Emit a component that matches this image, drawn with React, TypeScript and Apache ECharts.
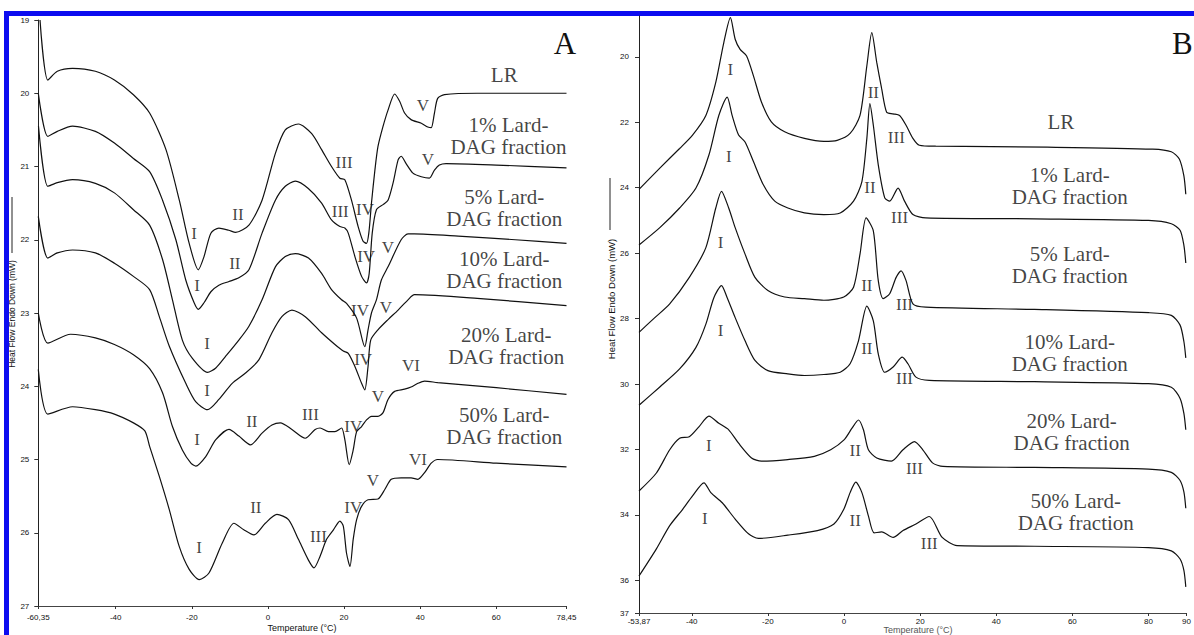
import React, { useEffect, useRef } from "react";
import * as echarts from "echarts";

// ---------- Panel A (temperature °C, heat flow mW) ----------
const aLR = [[-59.9,19.0],[-57.85,19.82],[-55.35,19.7],[-51.35,19.66],[-45.35,19.7],[-40.35,19.82],[-35.35,20.02],[-31.1,20.27],[-26.8,20.77],[-23.3,21.46],[-20.7,22.05],[-18.3,22.41],[-16.8,22.23],[-15.0,21.91],[-12.9,21.84],[-10.3,21.87],[-8.5,21.9],[-5.0,21.8],[-1.55,21.46],[1.95,20.82],[4.55,20.5],[8.0,20.42],[11.5,20.55],[14.1,20.77],[16.7,21.0],[18.9,21.16],[20.2,21.18],[21.95,21.46],[23.7,21.82],[25.0,22.02],[25.9,22.05],[26.5,21.91],[27.2,21.5],[28.1,21.05],[28.9,20.73],[30.2,20.46],[31.55,20.23],[33.3,20.01],[34.6,20.11],[35.9,20.27],[37.6,20.36],[40.3,20.41],[42.0,20.46],[42.9,20.47],[43.75,20.27],[44.6,20.07],[46.4,20.02],[55,20.0],[65,20.0],[78.45,20.0]];
const a1 = [[-60.35,20.0],[-57.85,20.59],[-55.35,20.52],[-51.35,20.45],[-45.35,20.52],[-40.35,20.68],[-35.35,20.89],[-31.1,21.07],[-27.7,21.46],[-24.2,22.0],[-21.6,22.55],[-19.4,22.86],[-18.3,22.95],[-16.8,22.86],[-15.0,22.71],[-12.9,22.62],[-10.25,22.57],[-7.65,22.52],[-5.0,22.41],[-1.55,21.91],[1.95,21.46],[4.55,21.27],[7.2,21.2],[10.6,21.3],[14.1,21.5],[16.7,21.73],[18.9,21.82],[20.2,21.84],[21.1,21.91],[22.85,22.23],[24.6,22.5],[25.9,22.59],[26.6,22.46],[27.4,21.91],[28.5,21.59],[30.25,21.52],[31.55,21.46],[32.85,21.23],[34.2,20.91],[35.0,20.86],[36.3,20.96],[38.1,21.09],[40.3,21.14],[42.4,21.16],[43.75,21.05],[45.05,20.98],[46.8,20.96],[60,20.98],[78.45,21.02]];
const a5 = [[-60.3,20.45],[-57.85,21.27],[-55.35,21.22],[-51.35,21.18],[-45.35,21.23],[-40.35,21.36],[-35.35,21.59],[-31.1,21.8],[-27.7,22.27],[-25.1,22.82],[-22.5,23.37],[-19.85,23.62],[-15.9,23.81],[-13.7,23.75],[-11.1,23.59],[-7.65,23.37],[-5.0,23.18],[-1.55,22.82],[1.95,22.37],[4.55,22.23],[7.2,22.19],[10.65,22.25],[14.1,22.46],[16.7,22.68],[19.35,22.82],[20.65,22.87],[23.3,23.07],[25.45,23.46],[26.3,23.23],[27.2,23.0],[28.5,22.82],[29.8,22.55],[31.55,22.37],[35.0,22.0],[36.8,21.92],[38.4,21.92],[50,21.95],[65,22.0],[78.45,22.05]];
const a10 = [[-60.35,21.68],[-57.85,22.25],[-55.35,22.18],[-51.35,22.14],[-45.35,22.18],[-40.35,22.32],[-35.35,22.5],[-31.1,22.68],[-28.55,23.05],[-25.95,23.45],[-21.6,23.96],[-19.0,24.21],[-15.9,24.32],[-12.9,24.18],[-9.4,23.96],[-5.9,23.82],[-2.4,23.64],[1.05,23.27],[3.65,23.05],[6.3,22.96],[9.8,23.05],[14.1,23.27],[17.6,23.43],[19.8,23.52],[21.1,23.55],[22.85,23.73],[24.6,23.96],[25.45,24.05],[26.3,23.73],[27.0,23.37],[28.9,23.23],[31.55,23.09],[34.2,22.96],[36.8,22.82],[38.5,22.75],[55,22.8],[78.45,22.9]];
const a20 = [[-60.35,23.0],[-57.85,23.41],[-51.85,23.29],[-45.35,23.34],[-40.35,23.43],[-35.35,23.57],[-31.1,23.76],[-27.7,24.09],[-25.1,24.55],[-22.5,24.87],[-20.25,25.05],[-18.95,25.09],[-16.35,24.96],[-13.7,24.73],[-10.25,24.59],[-7.65,24.68],[-4.6,24.8],[-1.55,24.64],[1.05,24.53],[3.25,24.5],[6.3,24.59],[9.8,24.71],[12.4,24.59],[13.7,24.57],[15.9,24.62],[17.6,24.62],[19.35,24.57],[20.2,24.73],[21.35,25.07],[22.4,24.87],[23.3,24.62],[24.6,24.55],[25.9,24.46],[27.2,24.41],[28.9,24.41],[30.25,24.36],[31.55,24.18],[33.3,24.07],[35.9,24.04],[37.6,24.01],[39.4,23.96],[41.15,23.93],[44.6,23.95],[60,24.02],[78.45,24.11]];
const a50 = [[-60.35,23.77],[-57.85,24.38],[-51.35,24.28],[-45.35,24.32],[-40.35,24.38],[-35.35,24.5],[-32.35,24.61],[-31.1,24.82],[-28.55,25.23],[-25.95,25.68],[-23.3,26.19],[-20.7,26.5],[-18.05,26.64],[-15.5,26.55],[-12.0,26.14],[-8.95,25.87],[-6.35,25.96],[-3.7,26.03],[-0.7,25.87],[2.35,25.75],[5.4,25.82],[8.0,26.09],[10.6,26.37],[12.1,26.48],[13.7,26.32],[15.4,26.09],[17.2,25.96],[18.9,25.84],[19.8,25.91],[20.65,26.28],[21.55,26.46],[22.4,26.09],[23.3,25.82],[24.6,25.64],[26.3,25.55],[28.9,25.54],[30.7,25.41],[32.4,25.27],[35.0,25.25],[37.6,25.25],[39.4,25.27],[41.15,25.18],[42.9,25.05],[44.6,25.0],[60,25.05],[78.45,25.1]];

// ---------- Panel B ----------
const bLR = [[-53.87,24.05],[-48.4,23.4],[-43.2,22.8],[-39.8,22.39],[-36.3,21.79],[-33.7,20.78],[-31.6,19.57],[-29.85,18.8],[-28.6,19.46],[-27.3,19.77],[-25.6,19.97],[-23.8,20.58],[-21.7,21.38],[-19.1,21.99],[-15.6,22.29],[-10.4,22.49],[-5.3,22.58],[-1.8,22.55],[1.6,22.34],[4.2,21.79],[6.0,20.27],[7.3,19.26],[8.6,20.17],[9.9,20.98],[11.2,21.69],[12.9,21.74],[14.6,21.79],[16.3,22.09],[18.1,22.49],[19.8,22.7],[24.1,22.73],[53.4,22.76],[81.1,22.82],[86.0,22.9],[88.1,23.12],[89.3,23.64],[89.8,24.2]];
const b1 = [[-53.87,25.75],[-48.4,25.22],[-43.2,24.62],[-38.9,24.01],[-35.5,23.0],[-32.9,21.79],[-30.7,21.23],[-29.4,21.79],[-27.7,22.39],[-26.0,22.6],[-23.8,23.2],[-21.2,23.91],[-18.2,24.41],[-14.75,24.62],[-10.4,24.77],[-5.3,24.82],[-1.0,24.77],[2.5,24.41],[4.7,23.81],[6.0,22.49],[6.8,21.43],[7.7,22.09],[9.0,23.3],[10.7,24.31],[12.0,24.41],[14.2,24.01],[15.9,24.41],[18.1,24.82],[21.5,24.92],[50,24.95],[80,25.0],[86,25.1],[88.3,25.3],[89.3,25.76],[89.8,26.3]];
const b5 = [[-53.87,28.42],[-50,28.0],[-45.8,27.55],[-40.65,26.74],[-36.3,25.83],[-33.7,24.62],[-32.2,24.11],[-30.3,24.62],[-28.6,25.22],[-26.0,26.03],[-23.4,26.74],[-20.0,27.14],[-15.6,27.34],[-10.4,27.39],[-5.3,27.44],[-0.06,27.34],[2.5,27.04],[4.2,26.03],[5.8,24.92],[7.7,25.32],[9.0,26.84],[10.3,27.39],[12.0,27.24],[13.7,26.74],[15.0,26.54],[16.3,26.84],[18.1,27.55],[21.5,27.65],[50,27.72],[80,27.82],[86,27.9],[88.3,28.2],[89.3,28.7],[89.8,29.2]];
const b10 = [[-53.87,30.65],[-48.4,30.09],[-43.2,29.54],[-38.9,28.88],[-36.3,28.17],[-34.2,27.36],[-32.2,26.99],[-30.7,27.36],[-28.6,27.97],[-26.0,28.68],[-23.4,29.28],[-20.0,29.59],[-14.75,29.69],[-10.4,29.74],[-5.3,29.71],[-1.0,29.64],[1.6,29.38],[3.8,28.68],[6.0,27.62],[7.7,28.07],[9.0,29.08],[10.7,29.64],[12.9,29.48],[15.3,29.18],[16.8,29.38],[18.9,29.79],[22.4,29.89],[50,29.93],[80,29.99],[86,30.1],[88.3,30.44],[89.3,30.9],[89.8,31.4]];
const b20 = [[-53.87,33.27],[-49.3,32.72],[-45.8,32.01],[-43.2,31.66],[-40.65,31.61],[-38.07,31.3],[-35.5,30.98],[-32.9,31.2],[-30.3,31.4],[-27.7,31.81],[-24.3,32.26],[-21.7,32.36],[-14.75,32.31],[-7.8,32.21],[-3.5,32.01],[0.0,31.71],[2.1,31.35],[3.8,31.1],[5.1,31.4],[6.4,32.01],[8.6,32.26],[12.45,32.36],[15.5,32.01],[18.5,31.76],[20.7,32.01],[23.25,32.41],[26,32.52],[50,32.55],[80,32.6],[86,32.7],[88.3,32.95],[89.3,33.3],[89.8,33.8]];
const b50 = [[-53.87,35.87],[-49.3,35.04],[-45.8,34.33],[-42.4,33.83],[-39.8,33.42],[-36.8,33.02],[-35.0,33.32],[-32.0,33.63],[-28.6,34.13],[-25.1,34.58],[-22.5,34.72],[-14.75,34.62],[-7.0,34.48],[-2.65,34.28],[-0.06,33.83],[1.6,33.32],[3.1,33.0],[4.7,33.32],[6.4,34.03],[7.9,34.55],[9.9,34.52],[12.9,34.69],[15.5,34.48],[18.9,34.28],[22.4,34.05],[25.8,34.69],[29.7,34.94],[50,34.96],[80,35.0],[86,35.1],[88.3,35.35],[89.3,35.7],[89.8,36.2]];

// ---------- Tick labels ----------
const aXTicks = [-60.35, -40, -20, 0, 20, 40, 60, 78.45];
const aYTicks = [19, 20, 21, 22, 23, 24, 25, 26, 27];
const bXTicks = [-53.87, -40, -20, 0, 20, 40, 60, 80, 90];
const bYTicks = [20, 22, 24, 26, 28, 30, 32, 34, 36, 37];

// ---------- Peak annotations (temperature, heat flow, text) ----------
const aPeakLabels = [
  [-19.4,21.91,"I"],[-7.9,21.66,"II"],[20.0,20.95,"III"],[25.5,21.59,"IV"],[40.7,20.17,"V"],
  [-18.6,22.63,"I"],[-8.7,22.32,"II"],[19.0,21.62,"III"],[25.8,22.23,"IV"],[42.0,20.91,"V"],
  [-16.0,23.42,"I"],[24.2,22.96,"IV"],[31.5,22.11,"V"],
  [-16.0,24.06,"I"],[25.0,23.64,"IV"],[31.0,22.92,"V"],
  [-18.6,24.73,"I"],[-4.25,24.48,"II"],[11.15,24.39,"III"],[22.4,24.55,"IV"],[28.9,24.14,"V"],[37.6,23.71,"VI"],
  [-18.1,26.2,"I"],[-3.2,25.66,"II"],[13.25,26.05,"III"],[22.4,25.66,"IV"],[27.6,25.28,"V"],[39.4,25.0,"VI"],
];
const bPeakLabels = [
  [-29.85,20.38,"I"],[7.7,21.09,"II"],[13.75,22.47,"III"],
  [-30.3,23.03,"I"],[6.8,24.0,"II"],[14.6,24.91,"III"],
  [-32.45,25.68,"I"],[6.0,27.0,"II"],[15.9,27.56,"III"],
  [-32.45,28.35,"I"],[6.0,28.91,"II"],[15.9,29.83,"III"],
  [-35.5,31.87,"I"],[2.95,32.02,"II"],[18.5,32.58,"III"],
  [-36.6,34.11,"I"],[2.95,34.16,"II"],[22.4,34.87,"III"],
];
const aSampleLabels = [
  [62.1,19.75,"LR"],[63.2,20.58,"1% Lard-\nDAG fraction"],[62.1,21.56,"5% Lard-\nDAG fraction"],
  [62.1,22.41,"10% Lard-\nDAG fraction"],[62.6,23.45,"20% Lard-\nDAG fraction"],[62.1,24.54,"50% Lard-\nDAG fraction"],
];
const bSampleLabels = [
  [57.0,21.99,"LR"],[59.3,23.94,"1% Lard-\nDAG fraction"],[59.3,26.36,"5% Lard-\nDAG fraction"],
  [59.3,29.04,"10% Lard-\nDAG fraction"],[59.8,31.48,"20% Lard-\nDAG fraction"],[60.9,33.9,"50% Lard-\nDAG fraction"],
];

const SERIF = "'Liberation Serif', 'Times New Roman', serif";
const SANS = "'Liberation Sans', Arial, sans-serif";
const BLUE = "#0c0cf0";

const fmt = (v: number) => String(v).replace(".", ",");

function xAxisCfg(gridIndex: number, min: number, max: number, ticks: number[], margin: number) {
  return {
    type: "value", gridIndex, min, max,
    axisLine: { show: true, onZero: false, lineStyle: { color: "#444", width: 1 } },
    axisTick: { show: true, customValues: ticks, length: 3, lineStyle: { color: "#333" } },
    axisLabel: { customValues: ticks, formatter: fmt, fontFamily: SANS, fontSize: 8, color: "#111", margin },
    splitLine: { show: false },
  };
}
function yAxisCfg(gridIndex: number, min: number, max: number, ticks: number[], margin: number) {
  return {
    type: "value", gridIndex, min, max, inverse: true,
    axisLine: { show: true, onZero: false, lineStyle: { color: "#222", width: 1 } },
    axisTick: { show: true, customValues: ticks, length: 4, lineStyle: { color: "#333" } },
    axisLabel: { customValues: ticks, fontFamily: SANS, fontSize: 8, color: "#111", margin },
    splitLine: { show: false },
  };
}

function curve(data: number[][], idx: number) {
  return {
    type: "line", xAxisIndex: idx, yAxisIndex: idx, data, symbol: "none", showSymbol: false,
    smooth: 0.25, silent: true, lineStyle: { color: "#111", width: 1.2 },
  };
}
function labels(data: any[], idx: number, size: number) {
  return {
    type: "scatter", xAxisIndex: idx, yAxisIndex: idx, silent: true, clip: false,
    symbolSize: 1, itemStyle: { color: "rgba(0,0,0,0)" },
    data: data.map((d) => ({ value: [d[0], d[1]], name: d[2] })),
    label: {
      show: true, position: "inside", formatter: (p: any) => p.name,
      fontFamily: SERIF, fontSize: size, lineHeight: size + 1, color: "#111", align: "center",
    },
  };
}

export default function App() {
  const ref = useRef<HTMLDivElement>(null);
  useEffect(() => {
    if (!ref.current) return;
    const chart = echarts.init(ref.current, undefined, { renderer: "svg" });
    chart.setOption({
      animation: false,
      backgroundColor: "#ffffff",
      grid: [
        { left: 38.3, top: 20, width: 528.2, height: 586 },
        { left: 639, top: 16, width: 555.3, height: 597 },
      ],
      xAxis: [xAxisCfg(0, -60.35, 78.45, aXTicks, 7), xAxisCfg(1, -53.87, 90, bXTicks, 4)],
      yAxis: [yAxisCfg(0, 19, 27, aYTicks, 9), yAxisCfg(1, 18.75, 37, bYTicks, 10)],
      series: [
        curve(aLR, 0), curve(a1, 0), curve(a5, 0), curve(a10, 0), curve(a20, 0), curve(a50, 0),
        curve(bLR, 1), curve(b1, 1), curve(b5, 1), curve(b10, 1), curve(b20, 1), curve(b50, 1),
        labels(aPeakLabels, 0, 17), labels(bPeakLabels, 1, 17),
        labels(aSampleLabels, 0, 21), labels(bSampleLabels, 1, 21),
      ],
      graphic: [
        { type: "text", x: 12, y: 314, rotation: Math.PI / 2,
          style: { text: "Heat Flow Endo Down (mW)", fontFamily: SANS, fontSize: 8.5, fill: "#111", align: "center", verticalAlign: "middle" } },
        { type: "line", shape: { x1: 12, y1: 197, x2: 12, y2: 253 }, style: { stroke: "#222", lineWidth: 1 } },
        { type: "text", x: 611, y: 299, rotation: Math.PI / 2,
          style: { text: "Heat Flow Endo Down (mW)", fontFamily: SANS, fontSize: 9.5, fill: "#111", align: "center", verticalAlign: "middle" } },
        { type: "line", shape: { x1: 610, y1: 178, x2: 610, y2: 230 }, style: { stroke: "#222", lineWidth: 1 } },
        { type: "text", x: 302, y: 628, style: { text: "Temperature (°C)", fontFamily: SANS, fontSize: 9, fill: "#111", align: "center", verticalAlign: "middle" } },
        { type: "text", x: 918, y: 630, style: { text: "Temperature (°C)", fontFamily: SANS, fontSize: 9, fill: "#555", align: "center", verticalAlign: "middle" } },
        { type: "text", x: 565, y: 43, style: { text: "A", fontFamily: SERIF, fontSize: 31, fill: "#111", align: "center", verticalAlign: "middle" } },
        { type: "text", x: 1172, y: 43, style: { text: "B", fontFamily: SERIF, fontSize: 31, fill: "#111", align: "left", verticalAlign: "middle" } },
        { type: "rect", shape: { x: 4, y: 11, width: 1190, height: 5 }, style: { fill: BLUE } },
        { type: "rect", shape: { x: 4, y: 11, width: 5, height: 624 }, style: { fill: BLUE } },
      ],
    });
    return () => chart.dispose();
  }, []);
  return <div ref={ref} style={{ position: "fixed", left: 0, top: 0, width: 1194, height: 635, background: "#fff" }} />;
}
